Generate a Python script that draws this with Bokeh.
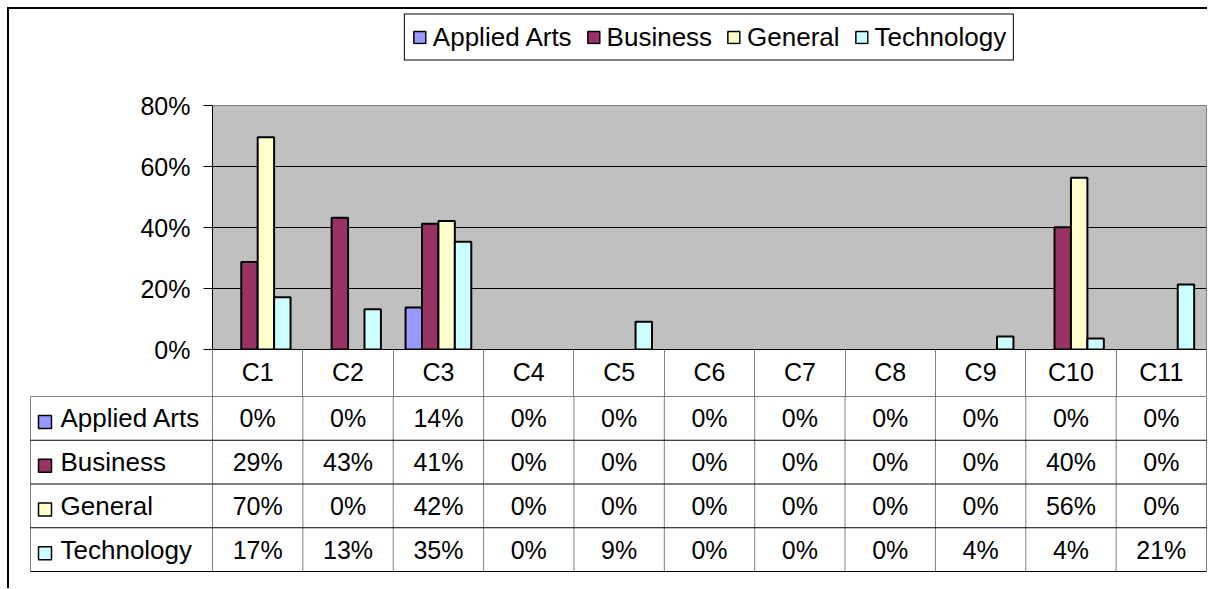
import numpy as np
from bokeh.plotting import figure
from bokeh.models import Range1d, FixedTicker, NumeralTickFormatter, Legend, LegendItem
from bokeh.layouts import column
from bokeh.core.properties import value
from bokeh.embed import file_html
from bokeh.resources import INLINE

# ---------------- data ----------------
categories = ["C1", "C2", "C3", "C4", "C5", "C6", "C7", "C8", "C9", "C10", "C11"]
series = ["Applied Arts", "Business", "General", "Technology"]
applied_arts = [0.0, 0.0, 0.138, 0.0, 0.0, 0.0, 0.0, 0.0, 0.0, 0.0, 0.0]
business = [0.287, 0.432, 0.412, 0.0, 0.0, 0.0, 0.0, 0.0, 0.0, 0.401, 0.0]
general = [0.696, 0.0, 0.421, 0.0, 0.0, 0.0, 0.0, 0.0, 0.0, 0.563, 0.0]
technology = [0.171, 0.132, 0.353, 0.0, 0.091, 0.0, 0.0, 0.0, 0.043, 0.036, 0.213]
colors = ["#9999FF", "#993366", "#FFFFCC", "#CCFFFF"]
y_ticks = [0.0, 0.2, 0.4, 0.6, 0.8]

values_by_series = [applied_arts, business, general, technology]

FONT = "Liberation Sans"
n = len(categories)
ORIGIN = 9                  # content origin (margin 7 + border 2)
W = 1198
LB, RB = 212 - ORIGIN, 1
frame_w = W - LB - RB
U = frame_w / n             # px per category
H0 = 55                     # legend strip
H1 = 332                    # chart incl. header row
H2 = 192                    # table rows
ROW_H = 43.75


def bare(fig):
    fig.axis.visible = False
    fig.grid.visible = False
    fig.outline_line_color = None
    fig.background_fill_color = "white"
    fig.border_fill_color = "white"


# ---------------- legend strip ----------------
lg = figure(width=W, height=H0, x_range=Range1d(0, 1), y_range=Range1d(0, 1),
            output_backend="svg", toolbar_location=None, frame_align=False,
            min_border_left=LB, min_border_right=RB, min_border_top=0, min_border_bottom=0)
bare(lg)
# swatch renderers for the legend; tiny and hidden beneath the legend box
dummy = [lg.quad(left=[0.499], right=[0.501], bottom=[0.45], top=[0.55], fill_color=c,
                 line_color="black", line_width=1.5)
         for c in colors]
legend = Legend(items=[LegendItem(label=s, renderers=[r]) for s, r in zip(series, dummy)],
                orientation="horizontal", location="center",
                border_line_color="black", border_line_width=1, border_line_alpha=1.0,
                background_fill_color="white", background_fill_alpha=1.0,
                padding=7, spacing=14, label_standoff=6,
                glyph_width=15, glyph_height=15, margin=0,
                label_text_font=FONT, label_text_font_size="26px", label_text_color="black")
lg.add_layout(legend)

# ---------------- chart ----------------
p = figure(width=W, height=H1, x_range=Range1d(0, n), y_range=Range1d(0, 0.8),
           output_backend="svg", toolbar_location=None, frame_align=False,
           min_border_left=LB, min_border_right=RB, min_border_top=105 - ORIGIN - H0,
           min_border_bottom=47)
p.background_fill_color = "#C0C0C0"
p.border_fill_color = "white"
p.outline_line_color = "#808080"
p.xgrid.visible = False
p.ygrid.ticker = FixedTicker(ticks=[t for t in y_ticks if 0 < t < 0.8])
p.ygrid.grid_line_color = "black"
p.ygrid.grid_line_alpha = 1.0

xa = p.xaxis[0]
xa.ticker = FixedTicker(ticks=[i + 0.5 for i in range(n)], minor_ticks=list(range(n + 1)))
xa.major_label_overrides = {i + 0.5: c for i, c in enumerate(categories)}
xa.major_tick_line_color = None
xa.major_tick_out = 0
xa.major_tick_in = 0
xa.minor_tick_out = 47
xa.minor_tick_in = 0
xa.minor_tick_line_color = "#808080"
xa.axis_line_color = "black"
xa.major_label_standoff = -39
xa.major_label_text_font = FONT
xa.major_label_text_font_size = "25px"
xa.major_label_text_color = "black"

ya = p.yaxis[0]
ya.ticker = FixedTicker(ticks=y_ticks, minor_ticks=[])
ya.formatter = NumeralTickFormatter(format="0%")
ya.major_tick_out = 9
ya.major_tick_in = 0
ya.minor_tick_out = 0
ya.minor_tick_in = 0
ya.axis_line_color = "black"
ya.major_tick_line_color = "black"
ya.major_label_standoff = 13
ya.major_label_text_font = FONT
ya.major_label_text_font_size = "25px"
ya.major_label_text_color = "black"

w = 1 / 5.5
for j, (name, vals, col) in enumerate(zip(series, values_by_series, colors)):
    xs = np.arange(n) + 0.75 * w + (j + 0.5) * w
    vals = np.asarray(vals)
    keep = vals > 0          # zero-height bars are invisible in the original
    p.vbar(x=xs[keep], top=vals[keep], width=w, fill_color=col, line_color="black", line_width=2)

# ---------------- data table ----------------
t = figure(width=W, height=H2, x_range=Range1d(-LB / U, n + RB / U),
           y_range=Range1d(H2 / ROW_H, 0), output_backend="svg", toolbar_location=None,
           frame_align=False,
           min_border=0, min_border_left=0, min_border_right=0, min_border_top=0, min_border_bottom=0)
bare(t)

nrows = len(series)
label_left = -182 / U
vx = [label_left] + list(range(n + 1))
t.segment(x0=vx, y0=[0] * len(vx), x1=vx, y1=[nrows] * len(vx), line_color="#808080", line_width=1)
hy = list(range(nrows + 1))
t.segment(x0=[label_left] * len(hy), y0=hy, x1=[n] * len(hy), y1=hy, line_color="black", line_width=1)

row_c = [r + 0.5 for r in range(nrows)]
t.scatter(x=[(44.5 - 212) / U] * nrows, y=[c + 0.08 for c in row_c], marker="square", size=13,
          fill_color=colors, line_color="black", line_width=1.5)
t.text(x=[(60 - 212) / U] * nrows, y=row_c, text=series, text_align="left", text_baseline="middle",
       text_font=value(FONT), text_font_size=value("26px"), text_color="black")

tx, ty, tt = [], [], []
for r, vals in enumerate(values_by_series):
    for i, v in enumerate(vals):
        tx.append(i + 0.5)
        ty.append(r + 0.5)
        tt.append(f"{int(round(v * 100))}%")
t.text(x=tx, y=ty, text=tt, text_align="center", text_baseline="middle",
       text_font=value(FONT), text_font_size=value("25px"), text_color="black")

layout = column(lg, p, t, spacing=0,
                styles={"margin-left": "7px", "margin-top": "7px",
                        "border-top": "2px solid black", "border-left": "2px solid black"})

open("out.html", "w").write(file_html(layout, INLINE))
